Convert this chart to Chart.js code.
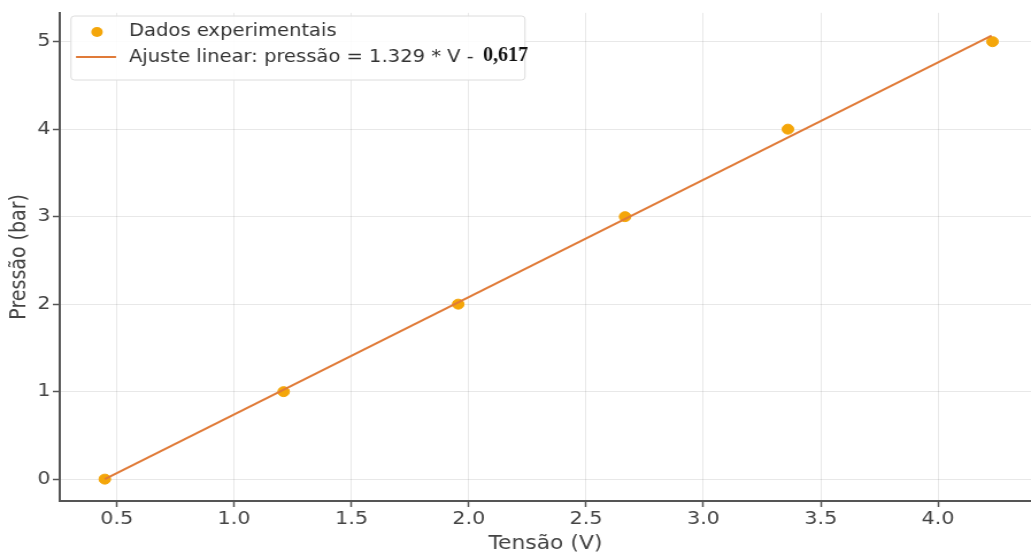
<!DOCTYPE html>
<html>
<head>
<meta charset="utf-8">
<script src="https://cdn.jsdelivr.net/npm/chart.js@4.4.1/dist/chart.umd.min.js"></script>
<style>
  html, body { margin: 0; padding: 0; background: #fff; }
</style>
</head>
<body>
<canvas id="grafico" width="897" height="556" style="display:block;width:1031px;height:556px"></canvas>
<script>
// dados
const tensao = [0.449, 1.211, 1.955, 2.666, 3.36, 4.232];
const pressao = [0, 1, 2, 3, 4, 5];
const ajusteX = [0.449, 4.228];
const ajusteY = [0.0, 5.07];
const xTicks = [0.5, 1.0, 1.5, 2.0, 2.5, 3.0, 3.5, 4.0];
const yTicks = [0, 1, 2, 3, 4, 5];

const legendaPontos = "Dados experimentais";
const legendaAjuste = "Ajuste linear: pressão = 1.329 * V - ";
const legendaAjusteNum = "0,617";

// the picture is stretched sideways, so the canvas is drawn narrower and scaled by css
const sx = 1031 / 897;

const corPontos = '#f4a60a';
const corLinha = '#e07b39';
const corTexto = '#444';
const fonte = 'DejaVu Sans';

const legendaPlugin = {
    id: 'legendaManual',
    afterDraw(chart) {
        const ctx = chart.ctx;
        const x0 = 71 / sx, x1 = 525 / sx;
        const y0 = 16, y1 = 80;
        ctx.save();
        ctx.beginPath();
        ctx.roundRect(x0, y0, x1 - x0, y1 - y0, 3);
        ctx.fillStyle = 'rgba(255,255,255,0.85)';
        ctx.fill();
        ctx.strokeStyle = '#dcdcdc';
        ctx.lineWidth = 1;
        ctx.stroke();

        // linha 1: pontos
        ctx.beginPath();
        ctx.arc(97 / sx, 32, 5, 0, Math.PI * 2);
        ctx.fillStyle = corPontos;
        ctx.fill();

        // linha 2: ajuste
        ctx.beginPath();
        ctx.moveTo(76 / sx, 57);
        ctx.lineTo(116 / sx, 57);
        ctx.strokeStyle = corLinha;
        ctx.lineWidth = 2;
        ctx.stroke();

        ctx.fillStyle = '#333';
        ctx.textAlign = 'left';
        ctx.textBaseline = 'middle';
        ctx.font = '17px "' + fonte + '"';
        ctx.fillText(legendaPontos, 129 / sx, 32);
        ctx.fillText(legendaAjuste, 129 / sx, 58);
        const w = ctx.measureText(legendaAjuste).width;

        // the number was pasted on later and is not stretched
        const nx = 129 / sx + w;
        ctx.translate(nx, 56);
        ctx.scale(1 / sx, 1);
        ctx.font = 'bold 20px "Liberation Serif"';
        ctx.fillStyle = '#111';
        ctx.fillText(legendaAjusteNum, 3, 0);
        ctx.restore();
    }
};

const config = {
    type: 'scatter',
    data: {
        datasets: [
            {
                label: legendaAjuste + legendaAjusteNum,
                data: ajusteX.map((x, i) => ({ x: x, y: ajusteY[i] })),
                showLine: true,
                borderColor: corLinha,
                borderWidth: 2,
                pointRadius: 0,
                fill: false,
                order: 0
            },
            {
                label: legendaPontos,
                data: tensao.map((x, i) => ({ x: x, y: pressao[i] })),
                backgroundColor: corPontos,
                borderColor: corPontos,
                pointRadius: 5,
                pointHoverRadius: 5,
                order: 1
            }
        ]
    },
    options: {
        responsive: false,
        animation: false,
        devicePixelRatio: 1,
        layout: { autoPadding: false, padding: { top: 7, right: 0, bottom: 0, left: 0 } },
        plugins: {
            legend: { display: false },
            tooltip: { enabled: false }
        },
        scales: {
            x: {
                type: 'linear',
                min: 0.257,
                max: 4.396,
                afterBuildTicks: (scale) => { scale.ticks = xTicks.map(v => ({ value: v })); },
                afterFit: (scale) => { scale.height = 55; },
                ticks: {
                    color: corTexto,
                    font: { family: fonte, size: 18 },
                    padding: 2,
                    maxRotation: 0,
                    callback: (v) => Number(v).toFixed(1)
                },
                grid: {
                    color: 'rgba(0,0,0,0.09)',
                    tickColor: '#555',
                    tickLength: 6,
                    tickWidth: 1.5
                },
                border: { color: '#555', width: 2 },
                title: {
                    display: true,
                    text: 'Tensão (V)',
                    color: corTexto,
                    font: { family: fonte, size: 19 },
                    padding: { top: 0, bottom: 1 }
                }
            },
            y: {
                type: 'linear',
                min: -0.25,
                max: 5.33,
                afterBuildTicks: (scale) => { scale.ticks = yTicks.map(v => ({ value: v })); },
                afterFit: (scale) => { scale.width = 52; },
                ticks: {
                    color: corTexto,
                    font: { family: fonte, size: 18 },
                    padding: 2
                },
                grid: {
                    color: 'rgba(0,0,0,0.09)',
                    tickColor: '#555',
                    tickLength: 6,
                    tickWidth: 1.5
                },
                border: { color: '#555', width: 2 },
                title: {
                    display: true,
                    text: 'Pressão (bar)',
                    color: corTexto,
                    font: { family: fonte, size: 19 },
                    padding: { top: 6, bottom: 0 }
                }
            }
        }
    },
    plugins: [legendaPlugin]
};

const grafico = new Chart(document.getElementById('grafico'), config);
</script>
</body>
</html>
